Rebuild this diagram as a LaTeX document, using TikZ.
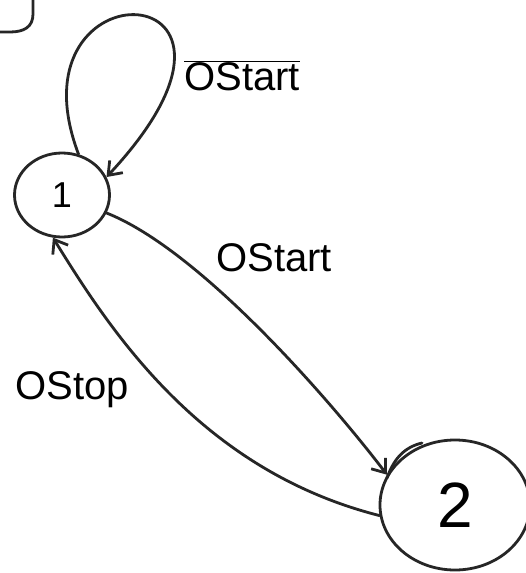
\documentclass[tikz,border=0pt]{standalone}
\usepackage{fontspec}
\setmainfont{Liberation Sans}
\usetikzlibrary{shapes.geometric,arrows.meta}
\begin{document}
\begin{tikzpicture}[x=1pt,y=-1pt,
  pen/.style={line width=2.8pt, draw=black!85, line cap=round, line join=round},
  state/.style={pen, ellipse, inner sep=0pt},
  tr/.style={pen, -{Straight Barb[length=12pt,width=18pt,line width=2.8pt]}},
  lab/.style={font=\fontsize{40}{42}\selectfont, inner sep=0pt}]
\useasboundingbox (0,0) rectangle (526,573);
\fill[white] (0,0) rectangle (526,573);
% fragment in the corner
\draw[pen] (33,0) -- (33,14) .. controls (33,27) and (24,32) .. (10,32) -- (0,32);
% states
\node[state, minimum width=95pt, minimum height=84pt] (s1) at (62,195) {\fontsize{36}{38}\selectfont 1};
\node[state, minimum width=150pt, minimum height=130pt] (s2) at (455,505) {\fontsize{64}{66}\selectfont 2};
% self loop
\draw[tr] (s1.68) .. controls (5,-40) and (300,-30) .. (s1.22);
\node[lab] (l0) at (242,76) {$\overline{\mbox{\fontsize{40}{42}\selectfont OStart}}$};
% 1 -> 2
\draw[tr] (s1.-22) .. controls (200,250) and (330,400) .. (s2.156);
\node[lab] (l1) at (274,258) {OStart};
% 2 -> 1
\draw[tr] (s2.188) .. controls (200,470) and (110,330) .. (s1.-102);
\node[lab] (l2) at (72,390) {OStop};
% stray stroke by state 2
\draw[pen] (387,478) .. controls (394,458) and (405,447) .. (422,443);
\end{tikzpicture}
\end{document}
